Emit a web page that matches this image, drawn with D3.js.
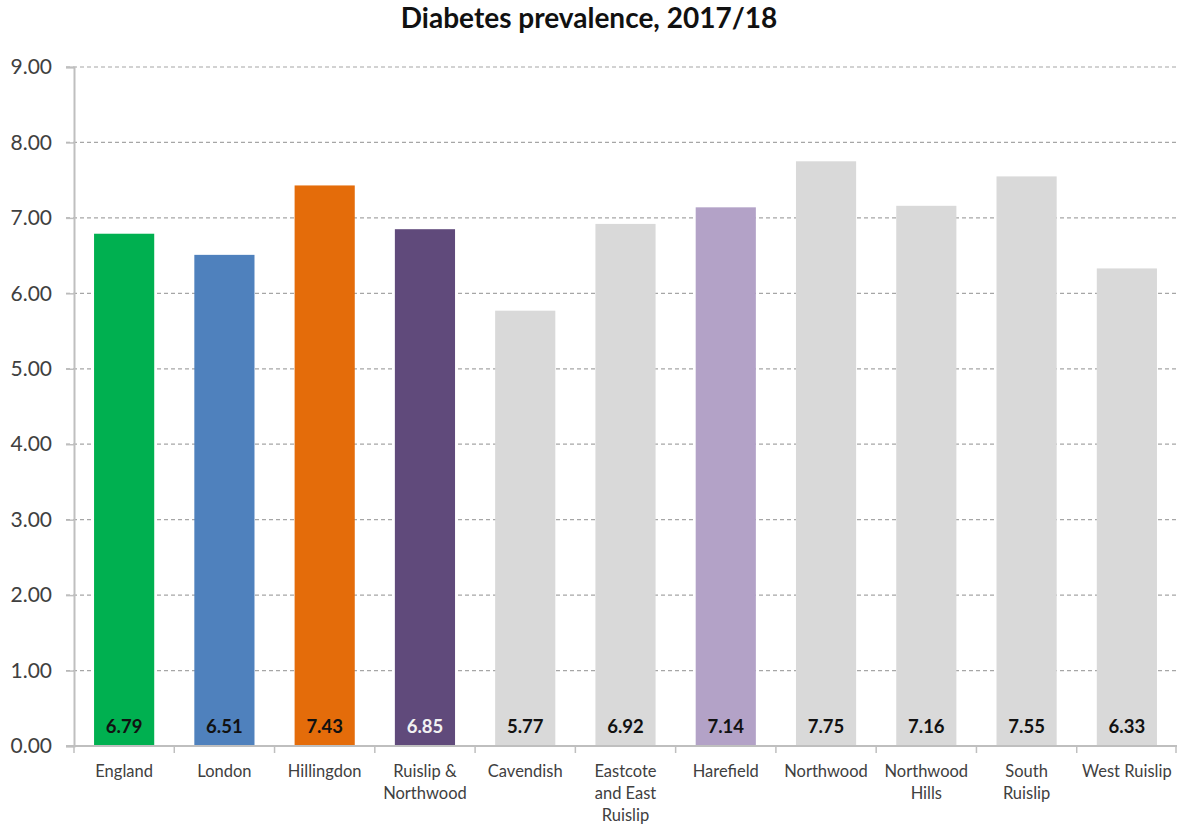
<!DOCTYPE html>
<html>
<head>
<meta charset="utf-8">
<script src="https://cdn.jsdelivr.net/npm/d3@7"></script>
<style>
body { margin: 0; background: #fff; }
text { font-family: Lato, "Open Sans", sans-serif; }
</style>
</head>
<body>
<script>
var svg_width  = 1179;
var svg_height = 826;

// data
var categories = ["England", "London", "Hillingdon", "Ruislip & Northwood", "Cavendish",
                  "Eastcote and East Ruislip", "Harefield", "Northwood", "Northwood Hills",
                  "South Ruislip", "West Ruislip"];
var labelLines = [["England"], ["London"], ["Hillingdon"], ["Ruislip &", "Northwood"], ["Cavendish"],
                  ["Eastcote", "and East", "Ruislip"], ["Harefield"], ["Northwood"], ["Northwood", "Hills"],
                  ["South", "Ruislip"], ["West Ruislip"]];
var values = [6.79, 6.51, 7.43, 6.85, 5.77, 6.92, 7.14, 7.75, 7.16, 7.55, 6.33];
var barColors = ["#00b050", "#4f81bd", "#e46c0a", "#604a7b", "#d9d9d9",
                 "#d9d9d9", "#b3a2c7", "#d9d9d9", "#d9d9d9", "#d9d9d9", "#d9d9d9"];
var labelColors = ["#111", "#111", "#111", "#f2f2f2", "#111",
                   "#111", "#111", "#111", "#111", "#111", "#111"];
var yTicks = [0, 1, 2, 3, 4, 5, 6, 7, 8, 9];

var margin = {left: 74, right: 2, top: 67, bottom: 80};

var svg = d3.select('body').append('svg')
            .attr('width', svg_width)
            .attr('height', svg_height);

var x = d3.scaleBand()
          .domain(categories)
          .range([margin.left, svg_width - margin.right])
          .paddingInner(0.4)
          .paddingOuter(0.2);

var y = d3.scaleLinear()
          .domain([0, 9])
          .range([svg_height - margin.bottom, margin.top]);

// title
svg.append("text")
   .attr("x", 589)
   .attr("y", 28)
   .attr("text-anchor", "middle")
   .style("font-size", "28px")
   .style("font-weight", "bold")
   .attr("fill", "#111")
   .text("Diabetes prevalence, 2017/18");

// gridlines
svg.append("g")
   .selectAll("line")
   .data(yTicks.filter(d => d > 0))
   .enter().append("line")
   .attr("x1", margin.left - 8)
   .attr("x2", svg_width - margin.right)
   .attr("y1", d => y(d))
   .attr("y2", d => y(d))
   .attr("stroke", "#a6a6a6")
   .attr("stroke-width", 1.2)
   .attr("stroke-dasharray", "4,3");

// y axis
var yAxis = d3.axisLeft(y).tickValues(yTicks).tickFormat(d3.format(".2f")).tickSize(8).tickPadding(14);
var gy = svg.append("g")
   .attr("transform", "translate(" + margin.left + ",0)")
   .call(yAxis);
gy.select(".domain").attr("stroke", "#bfbfbf").attr("stroke-width", 2);
gy.selectAll(".tick line").attr("stroke", "#bfbfbf").attr("stroke-width", 1.5);
gy.selectAll(".tick text")
  .attr("fill", "#404040")
  .style("font-size", "21px")
  .style("font-family", "Lato, 'Open Sans', sans-serif");

// bars
svg.append("g")
   .selectAll("rect")
   .data(values)
   .enter().append("rect")
   .attr("x", (d, i) => x(categories[i]))
   .attr("width", x.bandwidth())
   .attr("y", d => y(d))
   .attr("height", d => y(0) - y(d))
   .attr("fill", (d, i) => barColors[i]);

// value labels inside the bars, at the bottom
svg.append("g")
   .selectAll("text")
   .data(values)
   .enter().append("text")
   .attr("x", (d, i) => x(categories[i]) + x.bandwidth() / 2)
   .attr("y", y(0) - 13)
   .attr("text-anchor", "middle")
   .style("font-size", "18.5px")
   .style("font-weight", "bold")
   .attr("fill", (d, i) => labelColors[i])
   .text(d => d.toFixed(2));

// x axis line + ticks between categories
var xStart = margin.left;
var xEnd = svg_width - margin.right;
svg.append("line")
   .attr("x1", xStart - 8)
   .attr("x2", xEnd)
   .attr("y1", y(0))
   .attr("y2", y(0))
   .attr("stroke", "#bfbfbf")
   .attr("stroke-width", 2);

svg.append("g")
   .selectAll("line")
   .data(d3.range(categories.length + 1))
   .enter().append("line")
   .attr("x1", i => Math.min(xStart + i * (xEnd - xStart) / categories.length, xEnd - 1))
   .attr("x2", i => Math.min(xStart + i * (xEnd - xStart) / categories.length, xEnd - 1))
   .attr("y1", y(0))
   .attr("y2", y(0) + 7)
   .attr("stroke", "#bfbfbf")
   .attr("stroke-width", 1.5);

// category labels
var catLabels = svg.append("g")
   .selectAll("text")
   .data(categories)
   .enter().append("text")
   .attr("x", d => x(d) + x.bandwidth() / 2)
   .attr("y", y(0) + 31)
   .attr("text-anchor", "middle")
   .style("font-size", "16.5px")
   .attr("fill", "#404040");

catLabels.each(function(d, i) {
    var t = d3.select(this);
    labelLines[i].forEach(function(line, j) {
        t.append("tspan")
         .attr("x", x(d) + x.bandwidth() / 2)
         .attr("dy", j == 0 ? 0 : 22)
         .text(line);
    });
});
</script>
</body>
</html>
